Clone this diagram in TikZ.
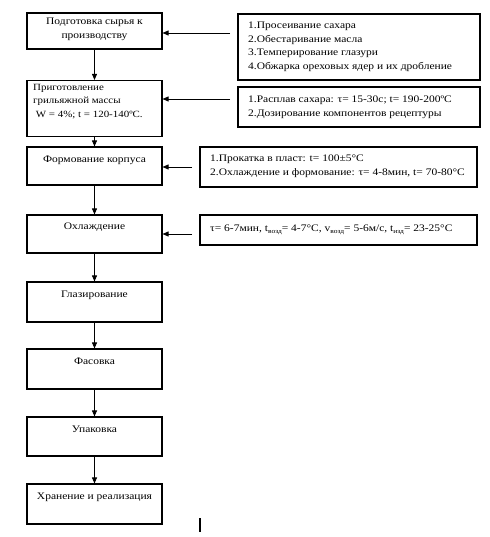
\documentclass[tikz,border=0pt]{standalone}
\usepackage{fontspec}
\setmainfont{Liberation Serif}[FakeStretch=1.15]
\usetikzlibrary{arrows.meta}
\newcommand{\sbs}[1]{\raisebox{-0.35ex}{\fontsize{6.5}{6.5}\selectfont #1}}
\begin{document}
\begin{tikzpicture}[x=1pt,y=-1pt,
  box/.style={draw,line width=1.1pt,inner sep=0pt,minimum width=135pt},
  rbox/.style={draw,line width=1.1pt,inner sep=0pt},
  txt/.style={font=\fontsize{10}{14}\selectfont,inner sep=0pt,align=center,anchor=north},
  rtxt/.style={font=\fontsize{10}{13.5}\selectfont,inner sep=0pt,align=left,anchor=north west},
  arr/.style={line width=0.9pt,-{Triangle[width=5pt,length=6pt]}}]
\useasboundingbox (0,0) rectangle (489,537);
% left boxes
\node[box,minimum height=36pt] (l1) at (94.5,31) {};
\node[box,minimum height=56pt] (l2) at (94.5,108.5) {};
\node[box,minimum height=38pt] (l3) at (94.5,166) {};
\node[box,minimum height=38pt] (l4) at (94.5,234) {};
\node[box,minimum height=40pt] (l5) at (94.5,302) {};
\node[box,minimum height=40pt] (l6) at (94.5,369) {};
\node[box,minimum height=39pt] (l7) at (94.5,436.5) {};
\node[box,minimum height=40pt] (l8) at (94.5,504) {};
\node[txt] (t1) at (94.5,18) {Подготовка сырья к\\производству};
\node[txt,font=\fontsize{9.5}{13.5}\selectfont,align=left,anchor=north west] (t2) at (33,84) {Приготовление\\грильяжной массы\\\ W = 4\%; t = 120-140ºС.};
\node[txt] (t3) at (94.5,156) {Формование корпуса};
\node[txt] (t4) at (94.5,223) {Охлаждение};
\node[txt] (t5) at (94.5,291) {Глазирование};
\node[txt] (t6) at (94.5,358) {Фасовка};
\node[txt] (t7) at (94.5,426) {Упаковка};
\node[txt] (t8) at (94.5,493) {Хранение и реализация};
% right boxes
\node[rbox,minimum width=242pt,minimum height=66pt] (r1) at (359,47) {};
\node[rbox,minimum width=242pt,minimum height=40pt] (r2) at (359,107) {};
\node[rbox,minimum width=277pt,minimum height=40pt] (r3) at (338.5,167) {};
\node[rbox,minimum width=277pt,minimum height=30pt] (r4) at (338.5,230) {};
\node[rtxt] (u1) at (248,22) {1.Просеивание  сахара\\2.Обестаривание  масла\\3.Темперирование  глазури\\4.Обжарка ореховых ядер  и их дробление};
\node[rtxt] (u2) at (248,96) {1.Расплав сахара:  τ= 15-30с;  t= 190-200ºС\\2.Дозирование компонентов  рецептуры};
\node[rtxt] (u3) at (210,155) {1.Прокатка в пласт:  t= 100±5°С\\2.Охлаждение  и формование:  τ= 4-8мин,  t= 70-80°С};
\node[rtxt] (u4) at (210,225) {τ= 6-7мин,  t\sbs{возд}= 4-7°С, v\sbs{возд}= 5-6м/с, t\sbs{изд}= 23-25°С};
% connectors
\draw[arr] (l1.south) -- (l2.north);
\draw[arr] (l2.south) -- (l3.north);
\draw[arr] (l3.south) -- (l4.north);
\draw[arr] (l4.south) -- (l5.north);
\draw[arr] (l5.south) -- (l6.north);
\draw[arr] (l6.south) -- (l7.north);
\draw[arr] (l7.south) -- (l8.north);
\coordinate (s1) at (230,33);
\coordinate (s2) at (230,99);
\coordinate (s3) at (192,167);
\coordinate (s4) at (192,234);
\draw[arr] (s1) -- (l1.east |- s1);
\draw[arr] (s2) -- (l2.east |- s2);
\draw[arr] (s3) -- (l3.east |- s3);
\draw[arr] (s4) -- (l4.east |- s4);
% stray mark
\coordinate (m1) at (200,518);
\coordinate (m2) at (200,532);
\draw[line width=1.3pt] (m1) -- (m2);
\end{tikzpicture}
\end{document}
